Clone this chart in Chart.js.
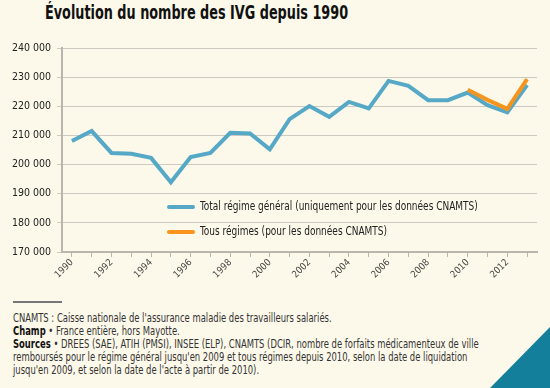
<!DOCTYPE html>
<html>
<head>
<meta charset="utf-8">
<script src="https://cdn.jsdelivr.net/npm/chart.js@4"></script>
<style>
  html, body { margin: 0; padding: 0; }
  body {
    width: 550px; height: 388px; overflow: hidden; position: relative;
    background: #fdf9ea;
    font-family: "DejaVu Sans Condensed", "Liberation Sans Narrow", sans-serif;
    color: #222;
  }
  #title {
    position: absolute; left: 45px; top: 1px; white-space: nowrap;
    font-size: 19px; font-weight: bold; color: #111;
    transform: scaleX(0.75); transform-origin: 0 0;
  }
  #wrap { position: absolute; left: 0; top: 0; width: 550px; height: 300px; }
  #sep { position: absolute; left: 13px; top: 301px; width: 49px; height: 2px; background: #777; }
  #notes {
    position: absolute; left: 13px; top: 312px; white-space: nowrap;
    font-size: 12px; line-height: 13.1px; color: #333;
    transform: scaleX(0.78); transform-origin: 0 0;
  }
  #notes b { color: #111; }
  #corner {
    position: absolute; right: 0; bottom: 0; width: 0; height: 0;
    border-style: solid; border-width: 0 0 61px 60px;
    border-color: transparent transparent #137f9a transparent;
  }
</style>
</head>
<body>
<div id="title">Évolution du nombre des IVG depuis 1990</div>
<div id="wrap"><canvas id="my-chart"></canvas></div>
<div id="sep"></div>
<div id="notes">CNAMTS : Caisse nationale de l'assurance maladie des travailleurs salariés.<br><b>Champ</b> • France entière, hors Mayotte.<br><b>Sources</b> • DREES (SAE), ATIH (PMSI), INSEE (ELP), CNAMTS (DCIR, nombre de forfaits médicamenteux de ville<br>remboursés pour le régime général jusqu'en 2009 et tous régimes depuis 2010, selon la date de liquidation<br>jusqu'en 2009, et selon la date de l'acte à partir de 2010).</div>
<div id="corner"></div>
<script>
const years = ["1990", "1991", "1992", "1993", "1994", "1995", "1996", "1997", "1998", "1999", "2000", "2001",
  "2002", "2003", "2004", "2005", "2006", "2007", "2008", "2009", "2010", "2011", "2012", "2013"];
const regimeGeneral = [208100, 211500, 204000, 203700, 202300, 193900, 202600, 204000, 210900, 210700, 205200, 215600,
  220100, 216400, 221500, 219300, 228700, 227000, 222100, 222100, 224700, 220400, 217900, 227300];
const tousRegimes = [null, null, null, null, null, null, null, null, null, null, null, null,
  null, null, null, null, null, null, null, null, 225700, 222200, 219100, 229300];
const labelRegimeGeneral = "Total régime général (uniquement pour les données CNAMTS)";
const labelTousRegimes = "Tous régimes (pour les données CNAMTS)";

const fontFamily = "'DejaVu Sans Condensed', 'Liberation Sans Narrow', sans-serif";
Chart.defaults.font.family = fontFamily;
Chart.defaults.color = "#222";

// legend drawn inside the plot, under the curves
const innerLegend = {
  id: "innerLegend",
  afterDraw(chart) {
    const ctx = chart.ctx;
    const items = [
      { label: labelRegimeGeneral, color: "#55a8c6", y: 207 },
      { label: labelTousRegimes, color: "#f7941d", y: 232 },
    ];
    ctx.save();
    ctx.font = "12.5px " + fontFamily;
    ctx.textBaseline = "middle";
    items.forEach((it) => {
      ctx.strokeStyle = it.color;
      ctx.lineWidth = 4;
      ctx.lineCap = "round";
      ctx.beginPath();
      ctx.moveTo(169, it.y);
      ctx.lineTo(193, it.y);
      ctx.stroke();
      ctx.save();
      ctx.translate(200, it.y);
      ctx.scale(0.8, 1);
      ctx.fillStyle = "#222";
      ctx.fillText(it.label, 0, 0);
      ctx.restore();
    });
    ctx.restore();
  },
};

const ctx = document.getElementById("my-chart").getContext("2d");
new Chart(ctx, {
  type: "line",
  data: {
    labels: years,
    datasets: [
      {
        label: labelTousRegimes,
        data: tousRegimes,
        borderColor: "#f7941d",
        borderWidth: 4,
        pointRadius: 0,
        order: 0,
      },
      {
        label: labelRegimeGeneral,
        data: regimeGeneral,
        borderColor: "#55a8c6",
        borderWidth: 4,
        pointRadius: 0,
        order: 1,
      },
    ],
  },
  options: {
    responsive: true,
    maintainAspectRatio: false,
    animation: false,
    layout: { padding: { top: 48, right: 13, left: 0, bottom: 0 } },
    plugins: { legend: { display: false }, tooltip: { enabled: false } },
    scales: {
      x: {
        offset: true,
        afterFit: (s) => { s.height = 48; },
        grid: { drawOnChartArea: false, drawTicks: true, tickLength: 5, color: "#b9b7ad", lineWidth: 1 },
        border: { color: "#b9b7ad", width: 2 },
        ticks: {
          autoSkip: false,
          maxRotation: 45,
          minRotation: 45,
          padding: 0,
          color: "#444",
          font: { size: 9.5 },
          callback: function (v, i) { return i % 2 === 0 ? this.getLabelForValue(v) : ""; },
        },
      },
      y: {
        min: 170000,
        max: 240000,
        afterFit: (s) => { s.width = 62; },
        grid: { color: "#cdcbc1", lineWidth: 1, tickLength: 5 },
        border: { color: "#b9b7ad", width: 2 },
        ticks: {
          stepSize: 10000,
          padding: 6,
          font: { size: 10.5 },
          callback: (v) => String(v).replace(/\B(?=(\d{3})+(?!\d))/g, " "),
        },
      },
    },
  },
  plugins: [innerLegend],
});
</script>
</body>
</html>
